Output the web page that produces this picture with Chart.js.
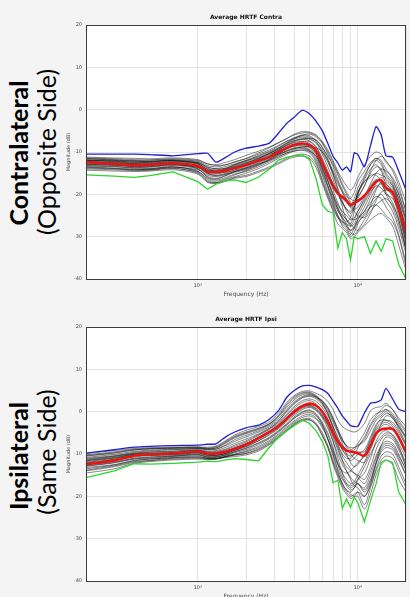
<!DOCTYPE html>
<html>
<head>
<meta charset="utf-8">
<script src="https://cdn.jsdelivr.net/npm/chart.js@4.4.1/dist/chart.umd.min.js"></script>
<style>
  html, body { margin: 0; padding: 0; width: 410px; height: 597px; overflow: hidden; background: #f4f4f4; }
  body { position: relative; font-family: Lato, "Open Sans", sans-serif; }
  .panel { position: absolute; left: 62px; width: 348px; height: 299px; }
  .side { position: absolute; width: 220px; height: 30px; line-height: 30px; text-align: center;
          white-space: nowrap; color: #000; font-size: 25px; transform: rotate(-90deg); }
  .bold { font-weight: 700; }
</style>
</head>
<body>

<div class="side bold" style="left:-92px; top:138px;">Contralateral</div>
<div class="side" style="left:-64px; top:137px;">(Opposite Side)</div>
<div class="side bold" style="left:-92px; top:441px;">Ipsilateral</div>
<div class="side" style="left:-64px; top:437px;">(Same Side)</div>

<canvas id="contraChart" class="panel" width="348" height="299" style="top:0px;"></canvas>
<canvas id="ipsiChart" class="panel" width="348" height="299" style="top:302px;"></canvas>

<script>
// -----------------------------
// Frequency grid (Hz)
// -----------------------------
const freqHz = [200, 300, 400, 500, 700, 1000, 1150, 1300, 1500, 1700, 2000, 2400, 2800, 3200, 3600, 4000,
                4500, 5000, 5500, 6000, 6500, 7000, 7500, 8000, 8500, 9000, 9500, 10000, 11000, 12000,
                13000, 14000, 15000, 16500, 18000, 20000];

// grid lines on the log axis
const gridFreqs = [1000, 2000, 3000, 4000, 5000, 6000, 7000, 8000, 9000, 10000, 20000];
const yTicks = [20, 10, 0, -10, -20, -30, -40];

// -----------------------------
// Contralateral (dB)
// -----------------------------
const contraMax = [-10.5, -10.5, -10.5, -10.6, -10.9, -10.4, -10.3, -12.4, -11.2, -10.0, -9.1, -8.6, -7.9, -5.5, -3.2, -1.8,
                   -0.1, -1.0, -2.8, -5.0, -8.0, -11.0, -12.6, -14.3, -13.5, -14.7, -10.2, -10.6, -13.5, -8.5,
                   -4.0, -6.0, -10.9, -11.2, -14.5, -19.0];
const contraMin = [-15.4, -15.7, -16.0, -15.6, -14.7, -17.0, -18.8, -17.6, -16.8, -16.6, -17.2, -15.9, -14.0, -11.9, -11.2, -10.9,
                   -10.7, -11.8, -16.5, -22.5, -24.0, -24.4, -32.7, -29.0, -30.5, -35.5, -30.0, -30.5, -30.0, -34.0,
                   -31.0, -33.5, -30.5, -31.0, -36.5, -40.0];
const contraMean = [-12.4, -12.8, -13.1, -13.0, -12.7, -13.3, -14.6, -14.7, -14.4, -13.8, -13.1, -12.0, -11.2, -10.0, -9.0, -8.3,
                    -8.0, -8.4, -9.8, -12.6, -15.5, -18.0, -19.8, -20.6, -21.5, -22.5, -22.0, -21.6, -20.3, -18.6,
                    -17.0, -16.7, -18.5, -19.5, -23.5, -29.0];
const contraSubjects = [
  [-11.2,-11.4,-11.5,-11.6,-11.4,-11.8,-12.8,-13.0,-12.4,-11.8,-10.8,-9.8,-8.8,-7.8,-6.8,-5.8,-5.2,-5.3,-6.0,-7.5,-9.5,-12.0,-14.5,-16.5,-18.0,-19.0,-18.0,-16.0,-13.0,-11.0,-10.0,-10.5,-12.5,-14.0,-17.0,-22.0],
  [-12.0,-12.3,-12.6,-12.4,-12.0,-12.8,-14.0,-14.2,-13.8,-13.0,-12.2,-11.0,-10.0,-9.0,-8.0,-7.3,-7.0,-7.4,-8.8,-11.5,-14.5,-17.5,-20.0,-22.0,-23.5,-24.5,-23.0,-21.0,-18.0,-15.0,-13.5,-14.0,-16.5,-18.0,-21.0,-27.0],
  [-13.0,-13.2,-13.5,-13.6,-13.2,-14.0,-15.8,-16.2,-15.5,-14.6,-13.8,-12.6,-11.5,-10.3,-9.3,-8.6,-8.3,-8.8,-10.5,-13.8,-17.0,-20.0,-22.5,-24.0,-25.0,-26.0,-25.5,-24.0,-21.5,-19.0,-17.0,-16.5,-18.0,-19.5,-23.0,-30.0],
  [-14.0,-14.2,-14.4,-14.3,-13.9,-14.8,-16.8,-17.2,-16.5,-15.8,-15.0,-13.9,-12.7,-11.5,-10.5,-9.8,-9.6,-10.2,-12.5,-16.5,-20.0,-23.0,-25.5,-27.0,-28.0,-29.5,-28.0,-26.5,-25.0,-23.0,-21.0,-20.0,-21.5,-24.0,-28.0,-34.0],
  [-11.8,-12.0,-12.2,-12.3,-12.1,-12.5,-13.5,-14.0,-13.8,-13.0,-12.0,-10.8,-9.8,-8.6,-7.5,-6.8,-6.0,-5.8,-6.5,-8.0,-10.5,-13.5,-16.5,-19.0,-20.5,-21.0,-19.5,-17.0,-14.5,-12.5,-11.5,-12.5,-15.0,-17.0,-20.0,-25.0],
  [-12.6,-12.8,-13.0,-12.8,-12.5,-13.2,-14.5,-15.0,-14.8,-14.3,-13.6,-12.4,-11.2,-10.0,-9.0,-8.2,-7.5,-7.6,-9.0,-12.0,-15.5,-19.0,-22.0,-24.5,-26.0,-27.5,-27.0,-25.0,-22.0,-19.5,-18.0,-18.5,-20.0,-21.0,-24.0,-31.0],
  [-13.5,-13.8,-14.0,-14.1,-13.6,-14.2,-15.5,-15.8,-15.3,-14.6,-13.8,-12.8,-12.0,-11.0,-10.2,-9.8,-9.5,-9.8,-11.0,-14.0,-18.0,-21.5,-24.0,-25.5,-26.5,-25.5,-23.0,-20.0,-17.0,-15.5,-15.5,-17.0,-20.0,-23.0,-27.0,-33.0],
  [-12.2,-12.5,-12.8,-12.9,-12.6,-13.4,-15.0,-15.2,-14.6,-13.8,-13.0,-11.8,-10.8,-9.5,-8.5,-7.8,-7.5,-8.0,-9.5,-12.8,-16.5,-20.0,-23.0,-25.5,-27.0,-28.5,-28.0,-26.0,-23.0,-20.0,-17.5,-16.0,-17.0,-18.5,-22.0,-28.0],
  [-11.5,-11.8,-12.0,-11.9,-11.6,-12.0,-12.8,-13.2,-13.0,-12.3,-11.6,-10.5,-9.5,-8.4,-7.4,-6.6,-6.0,-6.2,-7.5,-10.0,-12.5,-15.0,-17.5,-19.5,-21.0,-22.5,-21.0,-18.5,-15.5,-13.0,-12.0,-13.0,-15.5,-17.5,-21.0,-26.0],
  [-13.8,-14.0,-14.2,-14.2,-13.8,-15.0,-17.0,-17.3,-16.8,-16.0,-15.5,-14.5,-13.5,-12.5,-11.5,-10.8,-10.5,-11.0,-13.0,-17.0,-20.5,-23.5,-25.5,-26.5,-27.5,-28.5,-27.5,-26.0,-24.0,-22.0,-20.5,-21.0,-23.0,-25.5,-29.5,-36.0],
  [-12.8,-13.0,-13.3,-13.2,-12.9,-13.7,-15.2,-15.5,-15.0,-14.2,-13.3,-12.2,-11.0,-9.6,-8.3,-7.4,-6.8,-7.0,-8.0,-10.5,-13.5,-16.5,-19.5,-22.0,-24.0,-25.5,-26.0,-25.5,-24.0,-21.0,-18.5,-17.5,-18.5,-20.5,-25.0,-31.0],
  [-12.3,-12.5,-12.7,-12.7,-12.3,-12.9,-14.2,-14.4,-14.0,-13.4,-12.6,-11.6,-10.6,-9.7,-9.0,-8.6,-8.5,-9.0,-10.5,-13.5,-17.0,-20.5,-23.5,-26.0,-27.5,-29.0,-29.5,-28.5,-26.0,-24.0,-22.5,-21.5,-21.0,-22.5,-26.0,-33.0],
  [-11.4,-11.6,-11.8,-11.9,-11.8,-12.2,-13.2,-13.5,-13.0,-12.4,-11.5,-10.2,-9.0,-7.8,-6.8,-6.0,-5.5,-5.5,-6.2,-7.8,-10.0,-12.5,-15.0,-17.5,-19.5,-21.0,-21.5,-20.5,-18.0,-14.5,-12.0,-11.0,-12.0,-14.5,-18.0,-24.0],
  [-13.3,-13.5,-13.8,-13.9,-13.5,-14.5,-16.5,-16.9,-16.3,-15.4,-14.4,-13.2,-12.0,-10.8,-9.8,-9.2,-9.0,-9.6,-11.5,-15.0,-18.5,-22.0,-25.0,-27.5,-28.5,-30.0,-29.0,-27.0,-24.5,-23.0,-22.5,-23.5,-25.0,-26.5,-30.0,-37.0],
  [-12.5,-12.7,-12.9,-13.0,-12.8,-13.5,-14.8,-14.9,-14.3,-13.6,-12.9,-12.0,-11.2,-10.5,-9.8,-9.2,-8.8,-8.7,-9.0,-10.0,-12.0,-14.5,-17.0,-19.5,-21.5,-23.0,-22.0,-19.5,-16.5,-14.0,-13.0,-14.5,-17.5,-19.0,-22.5,-29.0],
  [-14.3,-14.5,-14.6,-14.5,-14.2,-15.2,-17.2,-17.4,-16.9,-16.2,-15.8,-14.8,-13.8,-12.8,-11.8,-11.2,-11.0,-11.5,-13.8,-17.5,-21.0,-24.0,-27.0,-28.0,-29.0,-30.5,-30.0,-29.0,-27.5,-26.0,-25.0,-24.5,-25.5,-27.5,-32.0,-38.0],
  [-12.0,-12.1,-12.4,-12.5,-12.3,-12.6,-13.8,-14.6,-14.0,-13.2,-12.4,-11.4,-10.4,-9.2,-8.0,-7.0,-6.5,-6.8,-7.8,-9.5,-12.0,-15.5,-19.0,-23.0,-26.0,-27.0,-24.0,-20.0,-16.0,-13.0,-11.5,-12.0,-14.0,-16.5,-20.0,-26.0],
  [-13.2,-13.4,-13.7,-13.5,-13.0,-13.9,-16.0,-16.4,-15.6,-14.8,-14.2,-13.0,-11.8,-10.6,-9.6,-9.0,-8.8,-9.4,-11.0,-14.5,-18.0,-21.0,-23.5,-25.0,-26.0,-27.0,-28.0,-28.5,-27.0,-24.5,-21.5,-19.5,-19.0,-20.0,-23.5,-30.0],
  [-11.9,-12.2,-12.4,-12.2,-11.9,-12.4,-13.6,-13.9,-13.4,-12.8,-12.0,-11.2,-10.3,-9.3,-8.4,-7.6,-7.0,-6.8,-7.2,-8.8,-11.5,-15.0,-18.5,-21.5,-23.5,-24.0,-22.5,-19.5,-17.0,-16.0,-15.0,-15.5,-16.0,-18.0,-22.0,-28.0],
  [-12.9,-13.1,-13.4,-13.4,-13.0,-13.6,-15.0,-15.6,-15.2,-14.6,-14.0,-12.9,-11.7,-10.4,-9.2,-8.4,-8.0,-8.2,-9.6,-12.4,-15.0,-17.5,-19.5,-21.0,-22.0,-23.0,-24.0,-25.0,-25.5,-22.5,-19.0,-17.0,-17.5,-19.5,-24.0,-32.0],
  [-11.6,-11.9,-12.1,-12.2,-12.0,-12.7,-14.2,-14.6,-14.2,-13.5,-12.7,-11.5,-10.3,-9.0,-7.8,-6.8,-6.2,-6.5,-7.2,-9.0,-11.0,-13.0,-15.5,-18.0,-20.0,-22.0,-23.5,-23.0,-20.5,-17.5,-15.0,-14.0,-14.5,-16.0,-19.0,-24.0],
  [-13.6,-13.9,-14.2,-14.0,-13.5,-14.6,-16.2,-16.6,-16.0,-15.2,-14.6,-13.5,-12.3,-11.2,-10.2,-9.5,-9.2,-9.8,-12.0,-15.5,-19.5,-22.5,-25.0,-26.5,-27.0,-27.5,-26.0,-24.0,-21.0,-18.0,-16.5,-17.5,-19.5,-22.0,-26.0,-33.0]
];

// -----------------------------
// Ipsilateral (dB)
// -----------------------------
const ipsiMax = [-9.8, -9.0, -8.4, -8.2, -8.0, -7.9, -7.7, -7.6, -5.9, -4.8, -3.8, -3.2, -1.8, 0.3, 3.4, 5.0,
                 6.1, 6.2, 5.8, 5.2, 4.3, 2.5, 0.8, -1.0, -2.2, -3.3, -3.5, -3.5, -0.3, 2.0,
                 2.2, 2.8, 5.5, 3.0, 0.6, 0.0];
const ipsiMin = [-15.6, -14.0, -12.3, -12.4, -12.2, -11.9, -11.7, -11.8, -11.4, -11.1, -11.3, -11.6, -8.4, -6.0, -4.5, -3.3,
                 -2.0, -2.8, -4.6, -7.0, -10.5, -16.8, -16.2, -22.8, -20.6, -22.6, -20.2, -21.5, -26.0, -21.0,
                 -17.0, -12.0, -11.4, -12.0, -19.0, -22.0];
const ipsiMean = [-12.4, -11.5, -10.4, -10.1, -9.9, -9.4, -9.9, -9.9, -9.4, -8.8, -7.8, -6.2, -4.8, -3.4, -1.6, 0.0,
                  1.3, 1.9, 1.4, 0.0, -2.2, -5.0, -7.0, -8.4, -9.2, -9.4, -9.6, -9.8, -10.4, -8.0,
                  -5.2, -4.2, -4.0, -4.1, -6.0, -9.6];
const ipsiSubjects = [
  [-9.9,-9.2,-8.7,-8.5,-8.4,-8.3,-8.4,-8.1,-6.8,-5.5,-4.4,-3.5,-2.4,-0.3,2.2,3.8,4.8,4.9,4.3,3.6,2.4,0.5,-2.0,-3.5,-4.2,-4.6,-4.8,-4.5,-2.8,0.2,1.0,1.2,2.0,0.5,-1.5,-3.5],
  [-11.0,-10.4,-9.6,-9.3,-9.0,-8.8,-9.0,-8.9,-8.0,-7.0,-6.0,-4.8,-3.6,-2.0,0.0,1.8,3.2,3.6,3.0,1.6,-0.5,-3.5,-6.5,-9.0,-10.5,-11.5,-11.0,-10.0,-9.0,-6.0,-3.0,-2.0,-2.0,-3.0,-5.0,-8.0],
  [-12.0,-11.2,-10.4,-10.2,-10.0,-9.6,-10.2,-10.3,-9.8,-9.0,-8.0,-6.5,-5.0,-3.5,-1.8,-0.2,1.0,1.5,0.8,-0.8,-3.0,-6.0,-9.0,-11.5,-13.0,-14.0,-14.5,-15.0,-16.0,-13.0,-9.0,-6.5,-5.5,-6.0,-8.5,-12.0],
  [-13.2,-12.5,-11.6,-11.2,-10.8,-10.5,-11.0,-11.0,-10.5,-10.0,-9.3,-8.2,-6.8,-5.2,-3.6,-2.2,-1.0,-0.6,-1.5,-3.5,-6.5,-10.0,-13.5,-16.0,-17.0,-17.5,-17.0,-16.0,-14.5,-11.0,-7.0,-5.0,-4.5,-5.5,-8.0,-13.0],
  [-14.5,-13.5,-12.2,-11.8,-11.4,-11.2,-11.3,-11.2,-10.8,-10.6,-10.2,-9.3,-7.8,-6.2,-4.6,-3.2,-2.2,-2.0,-3.2,-5.8,-8.5,-12.0,-15.0,-17.5,-19.0,-20.0,-19.5,-19.0,-22.0,-18.0,-14.0,-11.5,-10.5,-11.0,-14.0,-18.0],
  [-10.5,-9.8,-9.1,-8.8,-8.7,-8.6,-8.8,-8.6,-7.4,-6.2,-5.2,-4.2,-3.0,-1.2,1.0,2.8,4.0,4.2,3.5,2.3,0.5,-2.0,-4.5,-6.5,-8.0,-9.0,-8.5,-7.5,-5.0,-2.0,-0.5,0.0,0.5,-1.0,-3.5,-6.0],
  [-11.5,-10.8,-10.0,-9.8,-9.6,-9.2,-9.6,-9.6,-9.0,-8.2,-7.2,-5.6,-4.2,-2.7,-0.8,0.8,2.2,2.6,1.8,0.2,-2.0,-5.0,-8.0,-10.5,-12.0,-13.5,-14.5,-15.5,-17.0,-14.0,-10.5,-8.0,-7.0,-7.5,-10.0,-14.0],
  [-12.6,-11.8,-11.0,-10.7,-10.4,-10.0,-10.6,-10.6,-10.2,-9.5,-8.6,-7.3,-6.0,-4.4,-2.8,-1.2,0.0,0.4,-0.5,-2.5,-5.0,-8.5,-12.0,-14.5,-16.0,-17.0,-16.5,-15.0,-12.0,-8.0,-5.0,-3.5,-3.0,-4.0,-6.5,-10.0],
  [-10.2,-9.5,-8.9,-8.7,-8.5,-8.4,-8.6,-8.3,-7.0,-5.8,-4.8,-3.9,-2.8,-0.8,1.8,3.5,4.5,4.6,3.8,2.5,0.8,-1.5,-4.0,-6.5,-8.5,-10.0,-11.0,-11.5,-12.0,-9.0,-5.5,-3.0,-1.0,-1.5,-4.0,-7.5],
  [-13.8,-12.8,-11.8,-11.5,-11.0,-10.8,-11.1,-11.2,-10.6,-10.2,-9.8,-8.8,-7.4,-5.8,-4.2,-2.8,-1.8,-1.6,-2.8,-5.0,-8.0,-11.5,-14.5,-17.0,-18.5,-19.5,-20.0,-20.0,-23.0,-19.5,-15.0,-12.5,-11.5,-12.5,-16.0,-19.0],
  [-11.8,-11.0,-10.2,-10.0,-9.8,-9.4,-9.9,-9.9,-9.4,-8.6,-7.6,-6.0,-4.6,-3.0,-1.2,0.4,1.6,2.0,1.4,0.0,-2.0,-4.5,-7.0,-9.0,-10.0,-10.5,-10.0,-9.5,-9.5,-7.0,-4.0,-2.5,-2.0,-2.5,-4.5,-8.0],
  [-12.9,-12.1,-11.2,-11.0,-10.6,-10.2,-10.8,-10.8,-10.3,-9.7,-9.0,-7.8,-6.4,-4.8,-3.2,-1.6,-0.5,-0.2,-1.0,-3.0,-5.5,-9.0,-12.5,-15.5,-17.5,-18.5,-18.0,-17.0,-18.5,-16.0,-12.0,-9.0,-8.0,-8.5,-11.0,-15.0],
  [-11.2,-10.5,-9.8,-9.5,-9.3,-9.0,-9.3,-9.2,-8.4,-7.5,-6.5,-5.2,-3.9,-2.4,-0.5,1.2,2.6,3.0,2.4,1.0,-1.0,-3.5,-6.0,-8.0,-9.0,-9.5,-9.0,-8.0,-6.5,-3.5,-1.5,-0.5,0.5,-0.5,-2.5,-5.0],
  [-12.3,-11.5,-10.7,-10.4,-10.2,-9.8,-10.4,-10.4,-9.9,-9.2,-8.3,-6.9,-5.5,-4.0,-2.3,-0.8,0.5,1.0,0.2,-1.5,-4.0,-7.0,-10.0,-12.5,-14.0,-15.5,-16.5,-17.0,-18.0,-15.0,-11.0,-8.5,-7.5,-8.0,-10.5,-13.5],
  [-14.0,-13.0,-12.0,-11.6,-11.2,-11.0,-11.2,-11.1,-10.7,-10.3,-9.9,-9.0,-7.6,-6.0,-4.4,-3.0,-2.0,-1.9,-3.0,-5.5,-8.5,-12.5,-15.5,-18.0,-19.5,-20.5,-20.0,-19.0,-20.0,-17.5,-13.5,-10.5,-9.5,-10.0,-13.0,-17.0],
  [-10.8,-10.1,-9.4,-9.1,-8.9,-8.7,-8.9,-8.8,-7.8,-6.6,-5.6,-4.5,-3.3,-1.6,0.5,2.3,3.6,4.0,3.3,2.0,0.0,-2.5,-5.0,-7.0,-8.0,-8.5,-8.5,-8.0,-7.0,-4.5,-2.0,-1.0,0.0,-1.5,-3.5,-6.5],
  [-11.4,-10.6,-9.9,-9.6,-9.4,-9.1,-9.5,-9.4,-8.8,-7.9,-6.9,-5.4,-4.0,-2.2,0.2,2.0,3.4,3.8,3.4,2.6,1.0,-1.5,-4.5,-7.5,-10.0,-12.0,-13.0,-12.5,-10.0,-6.5,-3.5,-1.5,-0.5,-1.0,-3.0,-6.0],
  [-12.8,-12.0,-11.1,-10.8,-10.5,-10.2,-10.7,-10.7,-10.1,-9.4,-8.7,-7.5,-6.2,-4.6,-3.0,-1.5,-0.2,0.2,-0.8,-3.0,-6.5,-10.5,-14.0,-17.0,-18.5,-19.0,-18.0,-16.0,-13.0,-10.0,-7.5,-6.0,-5.0,-5.5,-7.5,-11.0],
  [-11.6,-10.9,-10.1,-9.9,-9.7,-9.3,-9.8,-9.8,-9.3,-8.5,-7.5,-6.1,-4.7,-3.2,-1.5,0.0,1.2,1.4,0.6,-1.0,-3.0,-5.5,-8.5,-11.5,-14.0,-16.0,-17.5,-18.0,-20.0,-17.0,-12.5,-9.5,-8.5,-9.0,-11.5,-15.0],
  [-13.5,-12.6,-11.5,-11.2,-10.9,-10.7,-11.0,-11.1,-10.6,-10.1,-9.5,-8.5,-7.1,-5.5,-3.9,-2.5,-1.4,-1.0,-1.8,-3.8,-6.5,-9.5,-12.5,-14.0,-14.5,-14.0,-13.0,-12.0,-10.5,-7.5,-4.5,-3.0,-2.5,-3.5,-6.0,-9.5],
  [-10.4,-9.7,-9.0,-8.8,-8.6,-8.5,-8.7,-8.5,-7.2,-6.0,-5.0,-4.0,-2.9,-1.0,1.4,3.2,4.3,4.4,3.6,2.0,-0.5,-4.0,-7.5,-10.0,-11.0,-11.0,-10.0,-8.5,-6.0,-3.0,-1.0,0.5,1.5,0.5,-2.0,-4.5],
  [-12.1,-11.4,-10.5,-10.3,-10.1,-9.7,-10.3,-10.3,-9.8,-9.1,-8.2,-6.8,-5.3,-3.8,-2.0,-0.5,0.8,1.2,0.4,-1.2,-3.5,-7.0,-11.0,-14.5,-17.0,-18.0,-17.5,-17.0,-19.0,-16.5,-12.0,-8.0,-6.0,-6.5,-9.0,-13.0]
];

// -----------------------------
// Colors
// -----------------------------
const maxColor = '#1f1fd0';
const minColor = '#2bd52b';
const meanColor = '#e81414';
const subjectColor = 'rgba(0,0,0,0.8)';
const gridColor = '#e3e3e3';
const axisText = '#4a4a4a';

const toPoints = vals => freqHz.map((f, i) => ({ x: f, y: vals[i] }));

// white plot area, axes box and title
const framePlugin = {
    id: 'frame',
    beforeDraw(chart) {
        const { ctx, chartArea: a } = chart;
        ctx.save();
        ctx.fillStyle = '#ffffff';
        ctx.fillRect(a.left, a.top, a.right - a.left, a.bottom - a.top);
        ctx.restore();
    },
    afterDraw(chart) {
        const { ctx, chartArea: a } = chart;
        ctx.save();
        ctx.strokeStyle = '#3c3c3c';
        ctx.lineWidth = 1;
        ctx.strokeRect(a.left + 0.5, a.top + 0.5, a.right - a.left - 1, a.bottom - a.top);
        ctx.fillStyle = '#111';
        ctx.font = 'bold 6px "DejaVu Sans"';
        ctx.textAlign = 'center';
        ctx.textBaseline = 'middle';
        ctx.fillText(chart.options.plugins.frame.text, (a.left + a.right) / 2, a.top - 8);
        ctx.restore();
    }
};

const createPanel = (id, title, subjects, maxVals, minVals, meanVals) => {
    const canvas = document.getElementById(id);
    if (!canvas) return;

    const datasets = subjects.map(vals => ({
        data: toPoints(vals),
        borderColor: subjectColor,
        borderWidth: 0.6,
        tension: 0.3,
        order: 3
    }));
    datasets.push({ data: toPoints(minVals), borderColor: minColor, borderWidth: 1.3, tension: 0, order: 2 });
    datasets.push({ data: toPoints(maxVals), borderColor: maxColor, borderWidth: 1.3, tension: 0.2, order: 1 });
    datasets.push({ data: toPoints(meanVals), borderColor: meanColor, borderWidth: 2.6, tension: 0.35, order: 0 });

    return new Chart(canvas.getContext('2d'), {
        type: 'line',
        data: { datasets },
        options: {
            responsive: false,
            animation: false,
            devicePixelRatio: 1,
            elements: { point: { radius: 0 } },
            layout: { padding: { top: 25, right: 0, bottom: 0, left: 0 } },
            plugins: {
                legend: { display: false },
                tooltip: { enabled: false },
                frame: { text: title }
            },
            scales: {
                x: {
                    type: 'logarithmic',
                    min: 200,
                    max: 20000,
                    afterBuildTicks: s => { s.ticks = gridFreqs.map(v => ({ value: v })); },
                    afterFit: s => { s.height = 20; },
                    grid: { color: gridColor, lineWidth: 1, drawTicks: false },
                    border: { display: false },
                    ticks: {
                        autoSkip: false,
                        maxRotation: 0,
                        padding: 4,
                        color: axisText,
                        font: { family: 'DejaVu Sans', size: 5 },
                        callback: v => v === 1000 ? '10³' : (v === 10000 ? '10⁴' : '')
                    },
                    title: {
                        display: true,
                        text: 'Frequency (Hz)',
                        color: axisText,
                        font: { family: 'DejaVu Sans', size: 6 },
                        padding: { top: 0, bottom: 1 }
                    }
                },
                y: {
                    min: -40,
                    max: 20,
                    afterBuildTicks: s => { s.ticks = yTicks.map(v => ({ value: v })); },
                    afterFit: s => { s.width = 24; },
                    grid: { color: gridColor, lineWidth: 1, drawTicks: false },
                    border: { display: false },
                    ticks: {
                        padding: 4,
                        color: axisText,
                        font: { family: 'DejaVu Sans', size: 5 }
                    },
                    title: {
                        display: true,
                        text: 'Magnitude (dB)',
                        color: axisText,
                        font: { family: 'DejaVu Sans', size: 5 },
                        padding: { top: 4, bottom: 0 }
                    }
                }
            }
        },
        plugins: [framePlugin]
    });
};

createPanel('contraChart', 'Average HRTF Contra', contraSubjects, contraMax, contraMin, contraMean);
createPanel('ipsiChart', 'Average HRTF Ipsi', ipsiSubjects, ipsiMax, ipsiMin, ipsiMean);
</script>
</body>
</html>
